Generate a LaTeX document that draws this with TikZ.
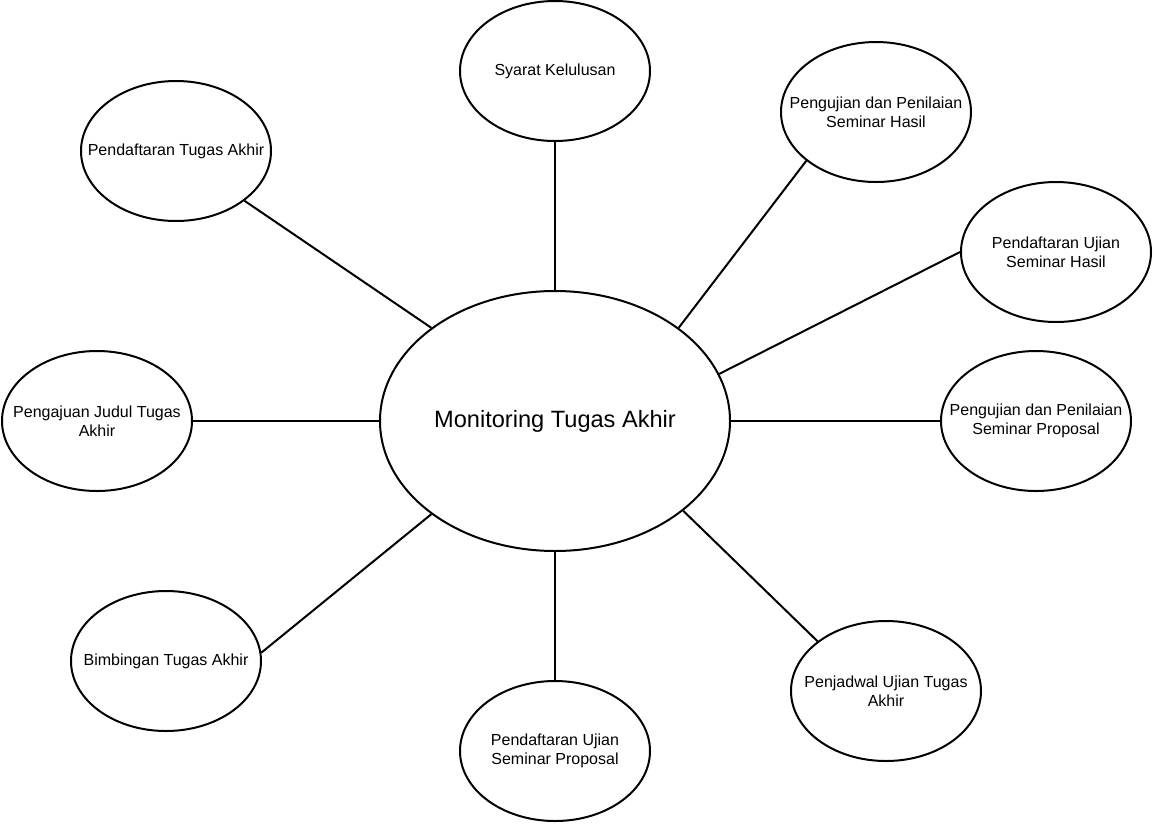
\documentclass[tikz,border=0pt]{standalone}
\usepackage{fontspec}
\setmainfont{Liberation Sans}
\usetikzlibrary{shapes.geometric}

\begin{document}
\begin{tikzpicture}[x=1pt, y=-1pt,
        topic/.style={draw, ellipse, line width=2pt, minimum width=190pt, minimum height=140pt, inner sep=0pt},
        txt/.style={align=center, font=\fontsize{16}{19.3}\selectfont},
        hub/.style={draw, ellipse, line width=2pt, minimum width=350pt, minimum height=260pt, inner sep=0pt, font=\fontsize{23.6}{28}\selectfont}]
        \useasboundingbox (0,0) rectangle (1154,823);
        \node[hub] (M) at (555,421) {Monitoring Tugas Akhir};

        \node[topic, label={[txt]center:Syarat Kelulusan}] (T1) at (555,71) {};
        \node[topic, label={[txt]center:Pendaftaran Tugas Akhir}] (T2) at (176,151) {};
        \node[topic, label={[txt]center:Pengujian dan Penilaian\\Seminar Hasil}] (T3) at (876,112) {};
        \node[topic, label={[txt]center:Pendaftaran Ujian\\Seminar Hasil}] (T4) at (1056,252) {};
        \node[topic, label={[txt]center:Pengajuan Judul Tugas\\Akhir}] (T5) at (97,421) {};
        \node[topic, label={[txt]center:Pengujian dan Penilaian\\Seminar Proposal}] (T6) at (1036,421) {};
        \node[topic, label={[txt]center:Bimbingan Tugas Akhir}] (T7) at (166,661) {};
        \node[topic, label={[txt]center:Pendaftaran Ujian\\Seminar Proposal}] (T8) at (555,751) {};
        \node[topic, label={[txt]center:Penjadwal Ujian Tugas\\Akhir}] (T9) at (886,691) {};

        \draw[line width=2pt] (M.90) -- (T1.270);
        \draw[line width=2pt] (M.143) -- (T2.-36);
        \draw[line width=2pt] (M.37) -- (T3.215);
        \draw[line width=2pt] (M.16) -- (T4.180);
        \draw[line width=2pt] (M.180) -- (T5.0);
        \draw[line width=2pt] (M.0) -- (T6.180);
        \draw[line width=2pt] (M.217) -- (T7.5);
        \draw[line width=2pt] (M.270) -- (T8.90);
        \draw[line width=2pt] (M.-35) -- (T9.144);
    \end{tikzpicture}
\end{document}
